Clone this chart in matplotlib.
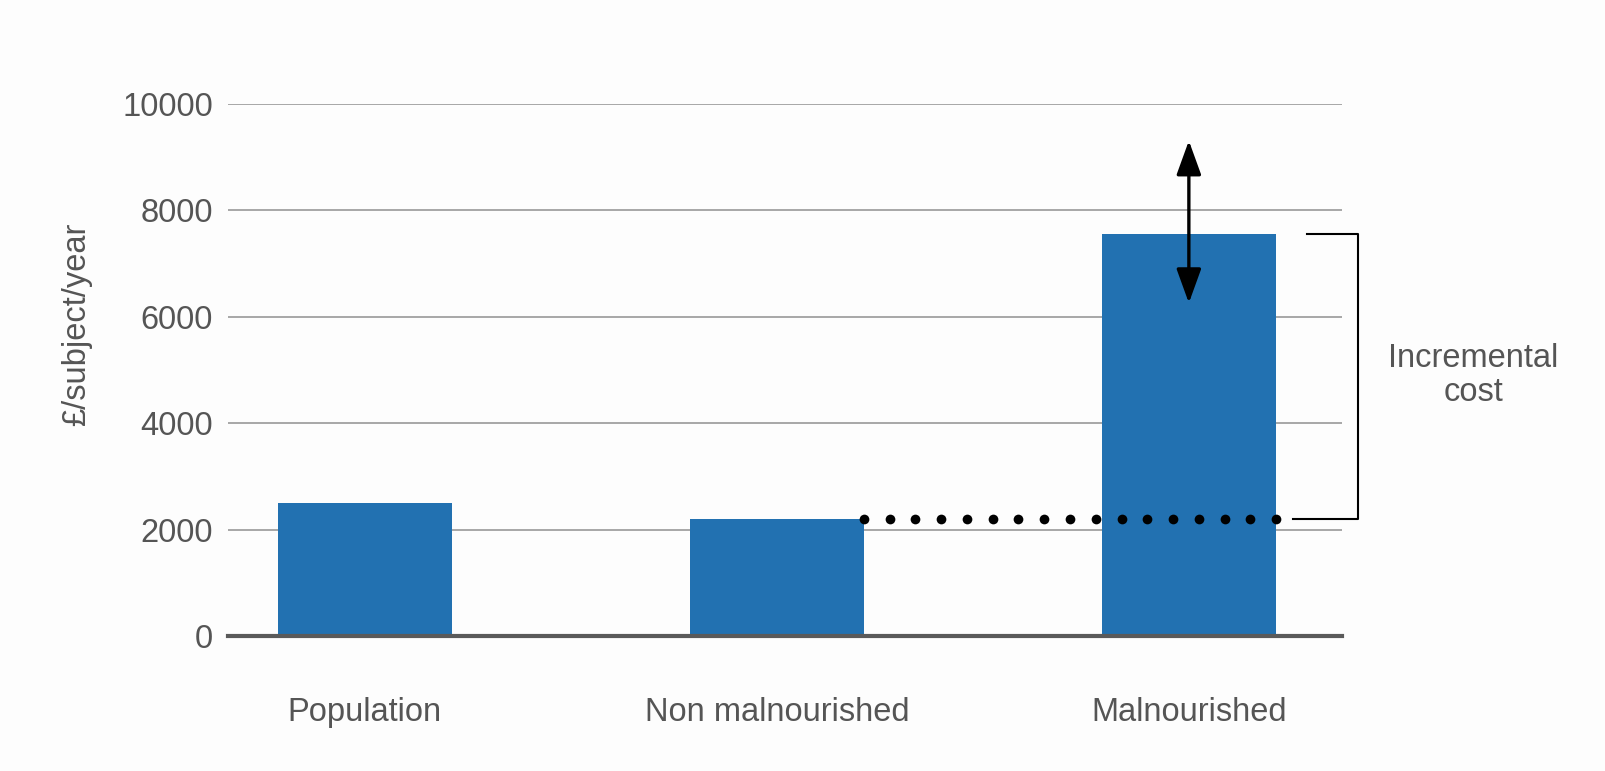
import numpy as np
import matplotlib
matplotlib.use('Agg')
import matplotlib.pyplot as plt

plt.rcParams['font.family'] = ['Liberation Sans', 'DejaVu Sans']

# data
categories = ['Population', 'Non malnourished', 'Malnourished']
costs = [2500, 2200, 7550]
arrow_range = [6260, 9310]      # uncertainty arrow on malnourished bar
yticks = [0, 2000, 4000, 6000, 8000, 10000]

# styles
bar_col = '#2271b1'
txt_col = '#555555'
grid_col = '#a0a0a0'
bg = '#fdfdfd'
bar_w = 0.423
fs = 23.5
n_dots = 17

fig = plt.figure(figsize=(16.06, 7.71), dpi=100, facecolor=bg)
ax = fig.add_axes([0.142, 0.1751, 0.6937, 0.690], facecolor=bg)

x = np.arange(len(categories))

# gridlines behind the bars
for yv in yticks[1:]:
    ax.axhline(yv, color=grid_col, lw=1.3, zorder=0)

ax.bar(x, costs, width=bar_w, color=bar_col, zorder=2)
ax.axhline(0, color='#5a5a5a', lw=3.0, zorder=3, clip_on=False)

# dotted line from non-malnourished level across to malnourished bar
x0 = x[1] + bar_w / 2
x1 = x[2] + bar_w / 2
dx = np.linspace(x0, x1, n_dots)
ax.plot(dx, np.full(n_dots, costs[1]), 'o', color='black', ms=7,
        mew=0, zorder=4)

# double headed arrow
ax.annotate('', xy=(x[2], arrow_range[1]), xytext=(x[2], arrow_range[0]),
            arrowprops=dict(arrowstyle='<|-|>,head_length=1.05,head_width=0.38',
                            color='black', lw=2.4, mutation_scale=20,
                            shrinkA=0, shrinkB=0),
            zorder=5)

# bracket for incremental cost
bx_top, bx_bot, bx_r = 2.287, 2.253, 2.41
ax.plot([bx_top, bx_r, bx_r, bx_bot],
        [costs[2], costs[2], costs[1], costs[1]],
        color='black', lw=1.5, clip_on=False, zorder=4)
ax.text(2.69, 4900, 'Incremental\ncost', ha='center', va='center',
        multialignment='center', fontsize=fs, color=txt_col,
        linespacing=1.1)

# axes properties
ax.set_xlim(-0.332, 2.372)
ax.set_ylim(0, 10000)
ax.set_yticks(yticks)
ax.set_xticks(x)
ax.set_xticklabels(categories)
ax.tick_params('both', length=0, labelsize=fs, labelcolor=txt_col)
ax.tick_params('x', pad=44)
ax.tick_params('y', pad=11)
for s in ax.spines.values():
    s.set_visible(False)

ax.set_ylabel('£/subject/year', fontsize=fs, color=txt_col)
ax.yaxis.set_label_coords(-0.122, 0.585)

fig.savefig('out.png', dpi=100, facecolor=bg)
